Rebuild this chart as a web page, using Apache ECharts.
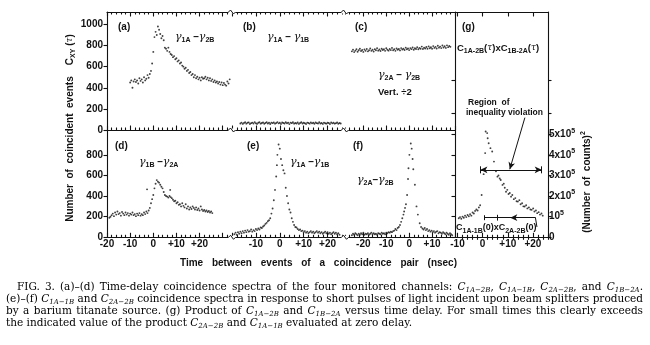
<!DOCTYPE html>
<html>
<head>
<meta charset="utf-8">
<title>Time-delay coincidence spectra</title>
<script src="https://cdn.jsdelivr.net/npm/echarts@6/dist/echarts.min.js"></script>
<style>
html, body { margin: 0; padding: 0; background: #fff; }
#chart { width: 650px; height: 345px; }
</style>
</head>
<body>
<div id="chart"></div>
<script>
const INK = '#121212';
const SANS = '"Liberation Sans", Arial, sans-serif';
const SERIF = '"DejaVu Serif", serif';
const GREEK = '"DejaVu Serif", serif';

// Time windows (ns) of each column of panels
const spanAD = [-20, 34];
const spanBE = [-20, 27.3];
const spanCF = [-28, 20];
const spanG = [-11, 26];
// Count ranges of the two rows, and of the product panel (units of 10^5 counts^2)
const countsTop = [0, 1118];
const countsBottom = [0, 1041];
const productRange = [0, 10.92];

// Tick labels
const leftTicksTop = [0, 200, 400, 600, 800, 1000];
const leftTicksBottom = [0, 200, 400, 600, 800];
const productTicks = [0, 1, 2, 3, 4, 5];
const productTicksLeft = [0, 1, 2, 3, 4, 5, 6, 7.6];
const labelsD = [-20, -10, 0, 10, 20];
const labelsE = [-10, 0, 10, 20];
const labelsF = [-20, -10, 0, 10];
const labelsG = [-10, 0, 10, 20];

// (a) gamma1A - gamma2B  [delay ns, counts]
const coincA = [[-10,450],[-9.5,470],[-9,400],[-8.5,460],[-8,480],[-7.5,455],[-7,470],[-6.5,440],[-6,490],[-5.5,465],[-5,480],[-4.5,450],[-4,500],[-3.5,470],[-3,485],[-2.5,520],[-2,495],[-1.5,530],[-1,560],[-0.5,630],[0,740],[0.5,880],[1,930],[1.5,900],[2,980],[2.5,950],[3,910],[3.5,870],[4,890],[4.5,850],[5,780],[5.5,770],[6,750],[6.5,780],[7,740],[7.5,720],[8,710],[8.5,690],[9,700],[9.5,670],[10,680],[10.5,650],[11,660],[11.5,630],[12,640],[12.5,610],[13,600],[13.5,580],[14,590],[14.5,560],[15,570],[15.5,540],[16,550],[16.5,520],[17,530],[17.5,500],[18,520],[18.5,490],[19,505],[19.5,480],[20,495],[20.5,470],[21,500],[21.5,485],[22,490],[22.5,505],[23,480],[23.5,495],[24,470],[24.5,490],[25,465],[25.5,480],[26,455],[26.5,470],[27,450],[27.5,460],[28,440],[28.5,455],[29,430],[29.5,450],[30,425],[30.5,445],[31,430],[31.5,420],[32,460],[32.5,440],[33,480]];

// (b) gamma1A - gamma1B
const coincB = [[-16.5,62],[-16,70],[-15.5,58],[-15,66],[-14.5,74],[-14,60],[-13.5,68],[-13,72],[-12.5,57],[-12,65],[-11.5,70],[-11,61],[-10.5,75],[-10,64],[-9.5,58],[-9,69],[-8.5,73],[-8,60],[-7.5,66],[-7,71],[-6.5,59],[-6,67],[-5.5,74],[-5,62],[-4.5,68],[-4,57],[-3.5,70],[-3,65],[-2.5,72],[-2,60],[-1.5,67],[-1,75],[-0.5,63],[0,69],[0.5,58],[1,71],[1.5,66],[2,61],[2.5,73],[3,64],[3.5,68],[4,56],[4.5,70],[5,65],[5.5,74],[6,60],[6.5,67],[7,62],[7.5,71],[8,58],[8.5,66],[9,73],[9.5,61],[10,69],[10.5,64],[11,57],[11.5,70],[12,66],[12.5,60],[13,72],[13.5,63],[14,68],[14.5,59],[15,71],[15.5,65],[16,61],[16.5,74],[17,62],[17.5,67],[18,58],[18.5,70],[19,64],[19.5,60],[20,69],[20.5,66],[21,57],[21.5,72],[22,63],[22.5,68],[23,60],[23.5,65],[24,71],[24.5,59],[25,66],[25.5,62]];

// (c) gamma2A - gamma2B, plotted divided by 2
const coincC = [[-25,745],[-24.5,760],[-24,738],[-23.5,752],[-23,765],[-22.5,742],[-22,755],[-21.5,770],[-21,748],[-20.5,758],[-20,740],[-19.5,762],[-19,750],[-18.5,768],[-18,745],[-17.5,756],[-17,772],[-16.5,750],[-16,760],[-15.5,744],[-15,766],[-14.5,755],[-14,775],[-13.5,752],[-13,762],[-12.5,748],[-12,770],[-11.5,758],[-11,765],[-10.5,750],[-10,774],[-9.5,760],[-9,752],[-8.5,768],[-8,757],[-7.5,778],[-7,755],[-6.5,766],[-6,750],[-5.5,772],[-5,760],[-4.5,768],[-4,754],[-3.5,776],[-3,762],[-2.5,770],[-2,758],[-1.5,780],[-1,765],[-0.5,772],[0,757],[0.5,776],[1,766],[1.5,782],[2,760],[2.5,774],[3,768],[3.5,785],[4,765],[4.5,778],[5,770],[5.5,790],[6,768],[6.5,780],[7,772],[7.5,786],[8,770],[8.5,792],[9,775],[9.5,784],[10,770],[10.5,795],[11,778],[11.5,788],[12,772],[12.5,798],[13,780],[13.5,790],[14,776],[14.5,800],[15,782],[15.5,794],[16,778],[16.5,802],[17,785],[17.5,796],[18,788]];

// (d) gamma1B - gamma2A
const coincD = [[-19,190],[-18.5,200],[-18,215],[-17.5,230],[-17,205],[-16.5,240],[-16,220],[-15.5,250],[-15,225],[-14.5,235],[-14,210],[-13.5,245],[-13,230],[-12.5,215],[-12,240],[-11.5,220],[-11,235],[-10.5,210],[-10,230],[-9.5,220],[-9,240],[-8.5,215],[-8,225],[-7.5,205],[-7,230],[-6.5,215],[-6,235],[-5.5,210],[-5,225],[-4.5,215],[-4,240],[-3.5,225],[-3,250],[-2.7,465],[-2.5,235],[-2,260],[-1.5,285],[-1,330],[-0.5,370],[0,410],[0.5,475],[1,520],[1.5,555],[2,540],[2.5,530],[3,510],[3.5,490],[4,475],[4.5,440],[5,410],[5.5,400],[6,395],[6.5,385],[7,400],[7.3,460],[7.5,390],[8,380],[8.5,365],[9,350],[9.5,355],[10,330],[10.5,340],[11,315],[11.5,320],[12,300],[12.5,330],[13,305],[13.5,290],[14,320],[14.5,280],[15,300],[15.5,270],[16,290],[16.5,275],[17,300],[17.5,285],[18,270],[18.5,290],[19,265],[19.5,280],[20,260],[20.5,300],[21,270],[21.5,255],[22,265],[22.5,250],[23,260],[23.5,245],[24,255],[24.5,240],[25,250],[25.5,235]];

// (e) gamma1A - gamma1B, barium titanate pulses
const coincE = [[-19,30],[-18.5,45],[-18,25],[-17.5,50],[-17,35],[-16.5,55],[-16,40],[-15.5,60],[-15,45],[-14.5,65],[-14,50],[-13.5,70],[-13,55],[-12.5,60],[-12,75],[-11.5,55],[-11,70],[-10.5,60],[-10,80],[-9.5,70],[-9,85],[-8.5,75],[-8,95],[-7.5,90],[-7,105],[-6.5,115],[-6,130],[-5.5,140],[-5,155],[-4.5,165],[-4,185],[-3.5,230],[-3,280],[-2.5,360],[-2,460],[-1.5,590],[-1.2,700],[-1,800],[-0.5,900],[0,860],[0.5,760],[1,700],[1.5,650],[2,620],[2.5,480],[3,400],[3.5,330],[4,270],[4.5,240],[5,185],[5.5,150],[6,120],[6.5,100],[7,95],[7.5,80],[8,70],[8.5,75],[9,60],[9.5,65],[10,50],[10.5,60],[11,45],[11.5,55],[12,40],[12.5,50],[13,60],[13.5,45],[14,55],[14.5,40],[15,50],[15.5,60],[16,45],[16.5,55],[17,40],[17.5,50],[18,35],[18.5,45],[19,55],[19.5,40],[20,50],[20.5,35],[21,45],[21.5,30],[22,40],[22.5,50],[23,35],[23.5,45],[24,30],[24.5,40],[25,25]];

// (f) gamma2A - gamma2B, barium titanate pulses
const coincF = [[-25,20],[-24.5,35],[-24,25],[-23.5,40],[-23,30],[-22.5,20],[-22,35],[-21.5,25],[-21,40],[-20.5,30],[-20,45],[-19.5,25],[-19,35],[-18.5,30],[-18,40],[-17.5,25],[-17,35],[-16.5,45],[-16,30],[-15.5,40],[-15,30],[-14.5,35],[-14,25],[-13.5,40],[-13,35],[-12.5,30],[-12,45],[-11.5,35],[-11,40],[-10.5,30],[-10,45],[-9.5,40],[-9,50],[-8.5,45],[-8,55],[-7.5,50],[-7,60],[-6.5,65],[-6,80],[-5.5,70],[-5,90],[-4.5,100],[-4,120],[-3.5,150],[-3,185],[-2.5,220],[-2.2,250],[-1.8,285],[-1.4,320],[-0.9,410],[-0.5,565],[-0.3,670],[0.1,800],[0.7,910],[1.1,860],[1.5,760],[1.8,660],[2.5,510],[3.2,300],[3.8,220],[4.6,136],[5.2,100],[5.8,85],[6.3,75],[6.8,90],[7.3,70],[7.8,80],[8.3,60],[8.8,70],[9.3,55],[9.8,65],[10.3,50],[10.8,60],[11.3,45],[11.8,55],[12.3,60],[12.8,40],[13.3,50],[13.8,45],[14.3,35],[14.8,50],[15.3,40],[15.8,30],[16.3,45],[16.8,35],[17.3,25],[17.8,40],[18.3,30],[18.8,20]];

// (g) product C1A-2B x C1B-2A, units of 10^5 counts^2
const productG = [[-9.5,0.92],[-9,0.98],[-8.5,0.9],[-8,1.0],[-7.5,0.95],[-7,1.05],[-6.5,0.98],[-6,1.08],[-5.5,1.02],[-5,1.12],[-4.5,1.05],[-4,1.2],[-3.5,1.15],[-3,1.28],[-2.5,1.35],[-2,1.3],[-1.5,1.45],[-1,1.55],[-0.4,2.05],[0.4,3.06],[1,4.08],[1.2,5.13],[1.8,5.05],[2,4.8],[2.4,4.56],[3.1,4.32],[3.8,4.16],[4.5,3.67],[5.3,3.2],[5.9,2.94],[6.3,3.0],[6.8,2.85],[7.2,2.78],[7.9,2.54],[8.4,2.6],[8.8,2.4],[9.3,2.21],[9.8,2.3],[10.3,2.1],[10.8,2.15],[11.3,1.97],[11.8,2.05],[12.4,1.85],[13,1.9],[13.5,1.75],[14,1.73],[14.6,1.8],[15.1,1.6],[15.7,1.65],[16.2,1.5],[16.7,1.49],[17.3,1.55],[17.8,1.4],[18.4,1.45],[19,1.35],[19.5,1.33],[20.1,1.4],[20.6,1.25],[21.2,1.3],[21.7,1.17],[22.3,1.22],[22.8,1.1],[23.4,1.15],[23.9,1.05]];

// Annotations of panel (g)
const violationSpan = [-0.9, 23.5];
const violationLevel = 3.27;
const violationPointer = [[16.8, 5.8], [10.8, 3.3]];
const zeroDelayProduct = 0.95;
const zeroDelaySpan = [0.6, 21];
const zeroDelayMark = 6;
const zeroDelayArrowTip = 11;

function multiples(lo, hi, step) {
  const out = [];
  for (let k = Math.ceil(lo / step - 1e-9); k * step <= hi + 1e-9; k++) out.push(k * step);
  return out;
}
const signed = v => (v > 0 ? '+' + v : String(v));
const plain = v => String(v);

const grids = [], xAxes = [], yAxes = [], series = [];
const axisLine = { color: INK, width: 1.1 };
const tickFont = { fontFamily: SANS, fontSize: 10, fontWeight: 'bold', color: INK };

function addPanel(p) {
  const gi = grids.length;
  grids.push({ left: p.box[0], top: p.box[1], width: p.box[2], height: p.box[3], containLabel: false });
  const base = { gridIndex: gi, type: 'value', min: p.span[0], max: p.span[1], splitLine: { show: false } };
  const major = multiples(p.span[0], p.span[1], 10);
  const minor = multiples(p.span[0], p.span[1], 2).filter(v => v % 10 !== 0);
  let mainX = -1;
  (p.topAxis ? ['bottom', 'top'] : ['bottom']).forEach(side => {
    if (side === 'bottom') mainX = xAxes.length;
    xAxes.push(Object.assign({}, base, {
      position: side,
      axisLine: { show: true, onZero: false, lineStyle: axisLine },
      axisTick: { show: true, inside: true, length: 4.5, customValues: major, lineStyle: axisLine },
      axisLabel: side === 'bottom' && p.xLabels
        ? Object.assign({ show: true, customValues: p.xLabels, formatter: signed, margin: 2 }, tickFont)
        : { show: false }
    }));
    xAxes.push(Object.assign({}, base, {
      position: side,
      axisLine: { show: false },
      axisTick: { show: true, inside: true, length: 2.5, customValues: minor, lineStyle: axisLine },
      axisLabel: { show: false }
    }));
  });
  const yBase = { gridIndex: gi, type: 'value', min: p.range[0], max: p.range[1], splitLine: { show: false } };
  const yMain = yAxes.length;
  yAxes.push(Object.assign({}, yBase, p.left ? {
    position: 'left',
    axisLine: { show: true, onZero: false, lineStyle: axisLine },
    axisTick: { show: true, inside: false, length: 3.5, customValues: p.left.ticks, lineStyle: axisLine },
    axisLabel: p.left.labels
      ? Object.assign({ show: true, customValues: p.left.labels, margin: 4, formatter: plain }, tickFont)
      : { show: false }
  } : { show: false }));
  if (p.right) {
    yAxes.push(Object.assign({}, yBase, {
      position: 'right',
      axisLine: { show: true, onZero: false, lineStyle: axisLine },
      axisTick: { show: true, inside: false, length: 3.5, customValues: p.right.ticks, lineStyle: axisLine },
      axisLabel: Object.assign({
        show: true, customValues: p.right.labels, margin: 1, formatter: p.right.format, lineHeight: 14,
        rich: { p: { fontFamily: SANS, fontSize: 7, fontWeight: 'bold', color: INK, verticalAlign: 'top', lineHeight: 14 } }
      }, tickFont)
    }));
  }
  series.push({
    type: 'scatter', xAxisIndex: mainX, yAxisIndex: yMain, data: p.data,
    symbol: 'circle', symbolSize: 1.9, itemStyle: { color: INK },
    silent: true, animation: false, markLine: p.marks
  });
}

const powerLabel = v => (v === 0 ? '0' : v === 1 ? '10{p|5}' : v + 'x10{p|5}');

const gMarks = {
  silent: true, animation: false, symbol: ['none', 'none'], symbolSize: [5, 7],
  label: { show: false }, emphasis: { disabled: true },
  lineStyle: { color: INK, width: 1, type: 'solid' },
  data: [
    [{ coord: [violationSpan[0], violationLevel], symbol: 'arrow' }, { coord: [violationSpan[1], violationLevel], symbol: 'arrow' }],
    [{ coord: [violationSpan[0], violationLevel - 0.17] }, { coord: [violationSpan[0], violationLevel + 0.17] }],
    [{ coord: [violationSpan[1], violationLevel - 0.17] }, { coord: [violationSpan[1], violationLevel + 0.17] }],
    [{ coord: violationPointer[0] }, { coord: violationPointer[1], symbol: 'arrow' }],
    [{ coord: [zeroDelaySpan[0], zeroDelayProduct] }, { coord: [zeroDelaySpan[1], zeroDelayProduct] }],
    [{ coord: [zeroDelaySpan[0], zeroDelayProduct - 0.12] }, { coord: [zeroDelaySpan[0], zeroDelayProduct + 0.12] }],
    [{ coord: [zeroDelayMark, zeroDelayProduct - 0.14] }, { coord: [zeroDelayMark, zeroDelayProduct + 0.14] }],
    [{ coord: [zeroDelaySpan[1], zeroDelayProduct] }, { coord: [zeroDelayArrowTip, zeroDelayProduct], symbol: 'arrow' }],
    [{ coord: [zeroDelaySpan[1], zeroDelayProduct] }, { coord: [zeroDelaySpan[1] + 0.6, 0.5] }]
  ]
};

addPanel({ box: [107, 12, 125, 118], span: spanAD, range: countsTop, data: coincA, topAxis: true, left: { ticks: leftTicksTop, labels: leftTicksTop } });
addPanel({ box: [232, 12, 113, 118], span: spanBE, range: countsTop, data: coincB, topAxis: true });
addPanel({ box: [345, 12, 110, 118], span: spanCF, range: countsTop, data: coincC, topAxis: true });
addPanel({ box: [107, 130, 125, 107.3], span: spanAD, range: countsBottom, data: coincD, xLabels: labelsD, left: { ticks: leftTicksBottom, labels: leftTicksBottom } });
addPanel({ box: [232, 130, 113, 107.3], span: spanBE, range: countsBottom, data: coincE, xLabels: labelsE });
addPanel({ box: [345, 130, 110, 107.3], span: spanCF, range: countsBottom, data: coincF, xLabels: labelsF });
addPanel({ box: [455, 12, 93, 225.3], span: spanG, range: productRange, data: productG, topAxis: true, xLabels: labelsG,
  left: { ticks: productTicksLeft }, right: { ticks: productTicksLeft, labels: productTicks, format: powerLabel }, marks: gMarks });

// ---- text elements ----
const annRich = {
  gm: { fontFamily: GREEK, fontStyle: 'italic', fontSize: 11, fill: INK, lineHeight: 14 },
  s: { fontFamily: SANS, fontWeight: 'bold', fontSize: 7, fill: INK, lineHeight: 14, verticalAlign: 'bottom' },
  p: { fontFamily: SANS, fontWeight: 'bold', fontSize: 7, fill: INK, lineHeight: 14, verticalAlign: 'top' },
  t: { fontFamily: GREEK, fontStyle: 'italic', fontSize: 9, fill: INK, lineHeight: 14 }
};
function txt(x, y, text, size, styleExtra, rotation) {
  return {
    type: 'text', x, y, rotation: rotation || 0, silent: true, z: 50,
    style: Object.assign({ text, fill: INK, fontFamily: SANS, fontSize: size, fontWeight: 'bold',
      lineHeight: 14, verticalAlign: 'middle', align: 'left', rich: annRich }, styleExtra || {})
  };
}

function measureWidth(text, style) {
  const el = new echarts.graphic.Text({ style: Object.assign({ text }, style) });
  return el.getBoundingRect().width;
}
function wordLine(text, x0, x1, y, style, justify) {
  const words = text.split(/\s+/).filter(Boolean);
  const widths = words.map(w => measureWidth(w, style));
  const total = widths.reduce((a, b) => a + b, 0);
  const space = measureWidth('a a', style) - measureWidth('aa', style);
  const gap = justify && words.length > 1 ? (x1 - x0 - total) / (words.length - 1) : space;
  let x = x0;
  return words.map((w, i) => {
    const el = { type: 'text', x, y, silent: true, z: 50,
      style: Object.assign({ text: w, verticalAlign: 'middle', align: 'left' }, style) };
    x += widths[i] + gap;
    return el;
  });
}

const capSize = 10.5;
const capRich = {
  i: { fontFamily: SERIF, fontStyle: 'italic', fontSize: capSize, fill: '#000', lineHeight: 14 },
  sb: { fontFamily: SERIF, fontStyle: 'italic', fontSize: 7, fill: '#000', lineHeight: 14, verticalAlign: 'bottom' }
};
const capStyle = { fontFamily: SERIF, fontSize: capSize, fill: '#000', lineHeight: 14, rich: capRich };
const caption = [
  ['FIG. 3.  (a)\u2013(d) Time-delay coincidence spectra of the four monitored channels: {i|C}{sb|1A\u22122B}, {i|C}{sb|1A\u22121B}, {i|C}{sb|2A\u22122B}, and {i|C}{sb|1B\u22122A}.', 17, 643, 287, true],
  ['(e)\u2013(f) {i|C}{sb|1A\u22121B} and {i|C}{sb|2A\u22122B} coincidence spectra in response to short pulses of light incident upon beam splitters produced', 6, 643, 299, true],
  ['by a barium titanate source.  (g) Product of {i|C}{sb|1A\u22122B} and {i|C}{sb|1B\u22122A} versus time delay.  For small times this clearly exceeds', 6, 643, 311, true],
  ['the indicated value of the product {i|C}{sb|2A\u22122B} and {i|C}{sb|1A\u22121B} evaluated at zero delay.', 6, 643, 323, false]
];

function breakMark(x, y) {
  return [
    { type: 'rect', silent: true, z: 60, shape: { x: x - 3.5, y: y - 1.5, width: 7, height: 3 }, style: { fill: '#fff' } },
    { type: 'polyline', silent: true, z: 61, shape: { points: [[x - 3.5, y], [x - 1.5, y - 2], [x + 1.5, y + 2], [x + 3.5, y]] },
      style: { stroke: INK, lineWidth: 1, fill: null } }
  ];
}

const graphics = [
  txt(118, 27, '(a)', 10),
  txt(175, 37, '{gm|\u03b3}{s|1A} \u2013{gm|\u03b3}{s|2B}', 10),
  txt(243, 27, '(b)', 10),
  txt(267, 37, '{gm|\u03b3}{s|1A} \u2013 {gm|\u03b3}{s|1B}', 10),
  txt(355, 27, '(c)', 10),
  txt(378, 75, '{gm|\u03b3}{s|2A} \u2013 {gm|\u03b3}{s|2B}', 10),
  txt(378, 92, 'Vert. \u00f72', 9.5),
  txt(115, 146, '(d)', 10),
  txt(139, 162, '{gm|\u03b3}{s|1B} \u2013{gm|\u03b3}{s|2A}', 10),
  txt(247, 146, '(e)', 10),
  txt(290, 162, '{gm|\u03b3}{s|1A} \u2013{gm|\u03b3}{s|1B}', 10),
  txt(353, 146, '(f)', 10),
  txt(357, 180, '{gm|\u03b3}{s|2A}\u2013{gm|\u03b3}{s|2B}', 10),
  txt(462, 27, '(g)', 10),
  txt(457, 48, 'C{s|1A-2B}({t|\u03c4})xC{s|1B-2A}({t|\u03c4})', 9.5),
  txt(468, 103, 'Region  of', 8.5),
  txt(466, 113, 'inequality violation', 8.5),
  txt(456, 228, 'C{s|1A-1B}(0)xC{s|2A-2B}(0)', 9),
  txt(70, 128, 'Number  of  coincident  events    C{s|XY} ({t|\u03c4})', 10, { align: 'center' }, Math.PI / 2),
  txt(587, 182, '(Number  of  counts){p|2}', 10, { align: 'center' }, Math.PI / 2)
];

// axis title under the bottom row
const titleStyle = { fontFamily: SANS, fontSize: 10, fontWeight: 'bold', fill: INK };
wordLine('Time between events of a coincidence pair (nsec)', 180, 457, 263, titleStyle, true)
  .forEach(e => graphics.push(e));
caption.forEach(([t, x0, x1, y, j]) => wordLine(t, x0, x1, y, capStyle, j).forEach(e => graphics.push(e)));
[232, 345].forEach(x => [12, 130, 237.3].forEach(y => breakMark(x, y).forEach(e => graphics.push(e))));

const chart = echarts.init(document.getElementById('chart'), null, { renderer: 'canvas' });
chart.setOption({
  animation: false,
  backgroundColor: '#fff',
  grid: grids,
  xAxis: xAxes,
  yAxis: yAxes,
  series: series,
  graphic: { elements: graphics }
});
</script>
</body>
</html>
